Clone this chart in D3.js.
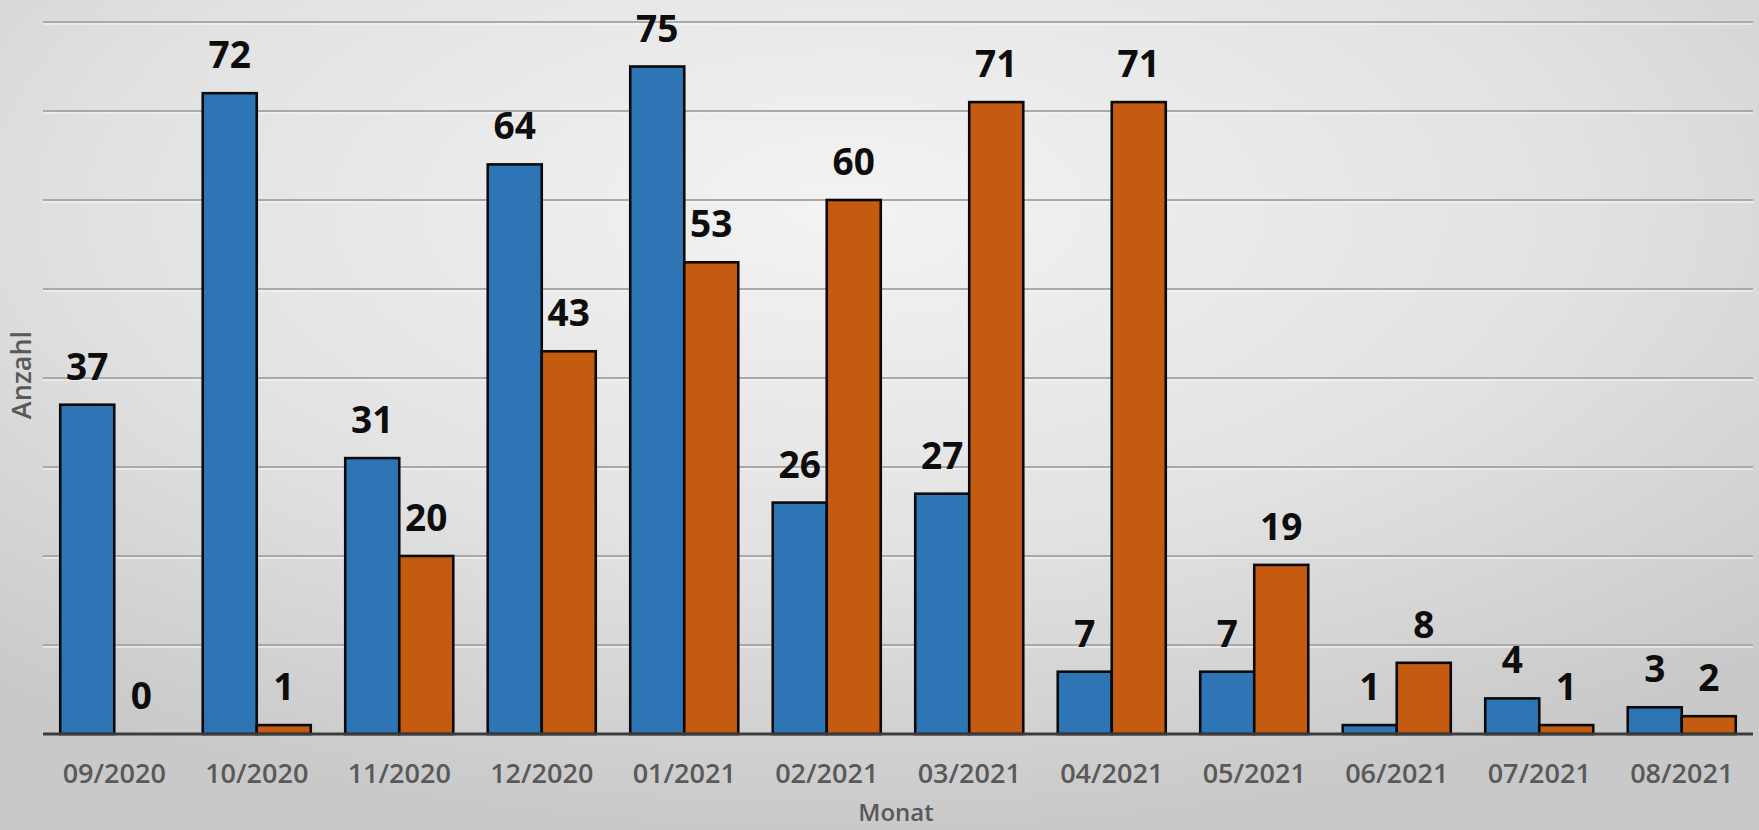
<!DOCTYPE html>
<html>
<head>
<meta charset="utf-8">
<script src="https://cdn.jsdelivr.net/npm/d3@7"></script>
<style>
  html, body { margin: 0; padding: 0; overflow: hidden; }
  svg { display: block; }
</style>
</head>
<body>
<svg id="chart" width="1759" height="830"></svg>
<script>
const months = ["09/2020","10/2020","11/2020","12/2020","01/2021","02/2021","03/2021","04/2021","05/2021","06/2021","07/2021","08/2021"];
const seriesBlue = [37,72,31,64,75,26,27,7,7,1,4,3];
const seriesOrange = [0,1,20,43,53,60,71,71,19,8,1,2];
const gridTicks = [0,10,20,30,40,50,60,70,80];
const xTitle = "Monat";
const yTitle = "Anzahl";

(function(){
const svg = d3.select("#chart");
const W = 1759, H = 830;

// background radial gradient
const defs = svg.append("defs");
const rg = defs.append("radialGradient").attr("id","bg")
  .attr("cx","48%").attr("cy","25%").attr("r","75%");
rg.append("stop").attr("offset","0%").attr("stop-color","#f3f3f3");
rg.append("stop").attr("offset","55%").attr("stop-color","#e2e2e2");
rg.append("stop").attr("offset","100%").attr("stop-color","#c9c9c9");
svg.append("rect").attr("width",W).attr("height",H).attr("fill","url(#bg)");

const pLeft = 43, pRight = 1753, pTop = 22, pBottom = 734;

const x0 = d3.scaleBand().domain(months).range([pLeft,pRight])
  .paddingInner(0.242).paddingOuter(0.121);
const x1 = d3.scaleBand().domain(["a","b"]).range([0, x0.bandwidth()]).padding(0);
const y = d3.scaleLinear().domain([0,80]).range([pBottom, pTop]);

// gridlines
const grid = svg.append("g");
grid.selectAll("line.hl").data(gridTicks.slice(1)).join("line")
  .attr("class","hl")
  .attr("x1",pLeft).attr("x2",pRight)
  .attr("y1",d=>y(d)+2).attr("y2",d=>y(d)+2)
  .attr("stroke","#f4f4f4").attr("stroke-width",1.5).attr("opacity",0.8);
grid.selectAll("line.g").data(gridTicks.slice(1)).join("line")
  .attr("class","g")
  .attr("x1",pLeft).attr("x2",pRight)
  .attr("y1",d=>y(d)).attr("y2",d=>y(d))
  .attr("stroke","#a9a9a9").attr("stroke-width",2);

const data = months.map((m,i)=>({m, vals:[{k:"a",v:seriesBlue[i]},{k:"b",v:seriesOrange[i]}]}));
const colors = {a:"#2e75b6", b:"#c55a11"};

const groups = svg.append("g").selectAll("g").data(data).join("g")
  .attr("transform", d=>`translate(${x0(d.m)},0)`);

groups.selectAll("rect").data(d=>d.vals.filter(o=>o.v>0)).join("rect")
  .attr("x", d=>x1(d.k))
  .attr("y", d=>y(d.v))
  .attr("width", x1.bandwidth())
  .attr("height", d=>y(0)-y(d.v))
  .attr("fill", d=>colors[d.k])
  .attr("stroke","#0a0a0a")
  .attr("stroke-width",2.6);

groups.selectAll("text").data(d=>d.vals).join("text")
  .attr("x", d=>x1(d.k)+x1.bandwidth()/2)
  .attr("y", d=>y(d.v)-25)
  .attr("text-anchor","middle")
  .attr("font-family","'Open Sans', sans-serif")
  .attr("font-weight",700)
  .attr("font-size",37)
  .attr("fill","#0d0d0d")
  .text(d=>d.v);

// baseline
svg.append("line").attr("x1",pLeft).attr("x2",pRight)
  .attr("y1",y(0)).attr("y2",y(0))
  .attr("stroke","#3c3c3c").attr("stroke-width",3);

// x axis labels
const xAxis = svg.append("g").attr("transform",`translate(0,${pBottom})`)
  .call(d3.axisBottom(x0).tickSize(0));
xAxis.select(".domain").remove();
xAxis.selectAll("text")
  .attr("y",49).attr("dy",0)
  .attr("font-family","'Open Sans', sans-serif")
  .attr("font-weight",600)
  .attr("font-size",27)
  .attr("fill","#595959");

// axis titles
svg.append("text").attr("x",(pLeft+pRight)/2-2).attr("y",821)
  .attr("text-anchor","middle")
  .attr("font-family","'Open Sans', sans-serif")
  .attr("font-weight",600).attr("font-size",24).attr("fill","#595959")
  .text(xTitle);

svg.append("text")
  .attr("transform",`translate(31,${(pTop+pBottom)/2 - 3}) rotate(-90)`)
  .attr("text-anchor","middle")
  .attr("font-family","'Open Sans', sans-serif")
  .attr("font-weight",600).attr("font-size",27).attr("fill","#595959")
  .text(yTitle);
})();
</script>
</body>
</html>
